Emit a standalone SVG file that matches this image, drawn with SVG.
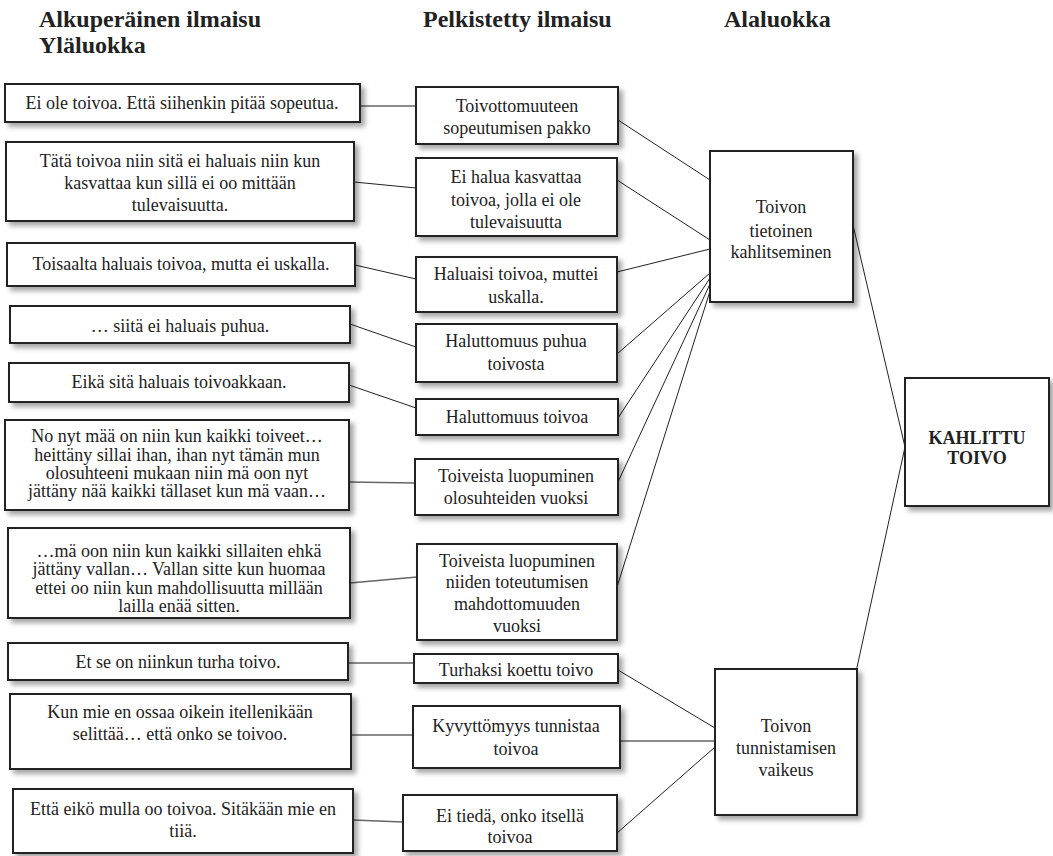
<svg xmlns="http://www.w3.org/2000/svg" width="1053" height="856" viewBox="0 0 1053 856" font-family="'Liberation Serif', 'Times New Roman', Times, serif">
<defs>
<filter id="sh" x="-10%" y="-10%" width="130%" height="140%">
<feDropShadow dx="4" dy="4" stdDeviation="2.5" flood-color="#000" flood-opacity="0.35"/>
</filter>
</defs>
<style>
.box{fill:#fff;stroke:#222;stroke-width:2;filter:url(#sh)}
text{font-family:'Liberation Serif','Times New Roman',Times,serif}
.t{font-size:18px;fill:#222;text-anchor:middle}
.b{font-weight:bold}
.h{font-size:24px;font-weight:bold;fill:#222}
.c{stroke:#222;stroke-width:1;fill:none}
.g{stroke:#666;stroke-width:1.6;fill:none}
</style>
<rect width="1053" height="856" fill="#fff"/>
<g id="headings">
<text class="h" x="39" y="27">Alkuperäinen ilmaisu</text>
<text class="h" x="39" y="53">Yläluokka</text>
<text class="h" x="423" y="27">Pelkistetty ilmaisu</text>
<text class="h" x="724" y="27">Alaluokka</text>
</g>
<g id="connectors">
<line class="g" x1="360" y1="106" x2="416" y2="106"/>
<line class="c" x1="354" y1="182" x2="416" y2="188"/>
<line class="c" x1="355" y1="265" x2="416" y2="279"/>
<line class="c" x1="350" y1="324" x2="416" y2="347"/>
<line class="c" x1="349" y1="385" x2="416" y2="408"/>
<line class="g" x1="349" y1="482" x2="415" y2="483"/>
<line class="g" x1="350" y1="583" x2="417" y2="577"/>
<line class="g" x1="348" y1="663" x2="414" y2="663"/>
<line class="g" x1="351" y1="735" x2="413" y2="735"/>
<line class="g" x1="353" y1="820" x2="403" y2="822"/>
<line class="c" x1="618" y1="120" x2="710" y2="180"/>
<line class="c" x1="617" y1="180" x2="710" y2="240"/>
<line class="c" x1="617" y1="272" x2="710" y2="249"/>
<line class="c" x1="617" y1="354" x2="710" y2="273"/>
<line class="c" x1="618" y1="418" x2="710" y2="278"/>
<line class="c" x1="618" y1="482" x2="710" y2="284"/>
<line class="c" x1="617" y1="587" x2="710" y2="291"/>
<line class="c" x1="618" y1="670" x2="715" y2="728"/>
<line class="g" x1="620" y1="741" x2="715" y2="741"/>
<line class="c" x1="617" y1="833" x2="715" y2="747"/>
<line class="c" x1="853" y1="225" x2="905" y2="447"/>
<line class="c" x1="856" y1="672" x2="905" y2="447"/>
</g>
<g id="o1"><rect class="box" x="5" y="84" width="355" height="38"/><text class="t" x="182" y="109">Ei ole toivoa. Että siihenkin pitää sopeutua.</text></g>
<g id="o2"><rect class="box" x="6" y="142" width="348" height="79"/><text class="t"><tspan x="180" y="167">Tätä toivoa niin sitä ei haluais niin kun</tspan><tspan x="180" y="189">kasvattaa kun sillä ei oo mittään</tspan><tspan x="180" y="211">tulevaisuutta.</tspan></text></g>
<g id="o3"><rect class="box" x="7" y="243" width="348" height="43"/><text class="t" x="181" y="270">Toisaalta haluais toivoa, mutta ei uskalla.</text></g>
<g id="o4"><rect class="box" x="10" y="306" width="340" height="37"/><text class="t" x="180" y="332">… siitä ei haluais puhua.</text></g>
<g id="o5"><rect class="box" x="9" y="363" width="340" height="39"/><text class="t" x="179" y="388">Eikä sitä haluais toivoakkaan.</text></g>
<g id="o6"><rect class="box" x="5" y="420" width="344" height="90"/><text class="t"><tspan x="177" y="442">No nyt mää on niin kun kaikki toiveet…</tspan><tspan x="177" y="461">heittäny sillai ihan, ihan nyt tämän mun</tspan><tspan x="177" y="479">olosuhteeni mukaan niin mä oon nyt</tspan><tspan x="177" y="497">jättäny nää kaikki tällaset kun mä vaan…</tspan></text></g>
<g id="o7"><rect class="box" x="8" y="528" width="342" height="90"/><text class="t"><tspan x="179" y="557">…mä oon niin kun kaikki sillaiten ehkä</tspan><tspan x="179" y="575">jättäny vallan… Vallan sitte kun huomaa</tspan><tspan x="179" y="594">ettei oo niin kun mahdollisuutta millään</tspan><tspan x="179" y="612">lailla enää sitten.</tspan></text></g>
<g id="o8"><rect class="box" x="8" y="643" width="340" height="37"/><text class="t" x="178" y="668">Et se on niinkun turha toivo.</text></g>
<g id="o9"><rect class="box" x="10" y="694" width="341" height="75"/><text class="t"><tspan x="180" y="718">Kun mie en ossaa oikein itellenikään</tspan><tspan x="180" y="740">selittää… että onko se toivoo.</tspan></text></g>
<g id="o10"><rect class="box" x="13" y="789" width="340" height="64"/><text class="t"><tspan x="183" y="815">Että eikö mulla oo toivoa. Sitäkään mie en</tspan><tspan x="183" y="837">tiiä.</tspan></text></g>
<g id="p1"><rect class="box" x="416" y="87" width="202" height="57"/><text class="t"><tspan x="517" y="112">Toivottomuuteen</tspan><tspan x="517" y="134">sopeutumisen pakko</tspan></text></g>
<g id="p2"><rect class="box" x="416" y="158" width="201" height="78"/><text class="t"><tspan x="516" y="183">Ei halua kasvattaa</tspan><tspan x="516" y="206">toivoa, jolla ei ole</tspan><tspan x="516" y="228">tulevaisuutta</tspan></text></g>
<g id="p3"><rect class="box" x="416" y="257" width="201" height="55"/><text class="t"><tspan x="516" y="280">Haluaisi toivoa, muttei</tspan><tspan x="516" y="303">uskalla.</tspan></text></g>
<g id="p4"><rect class="box" x="416" y="324" width="201" height="58"/><text class="t"><tspan x="516" y="347">Haluttomuus puhua</tspan><tspan x="516" y="370">toivosta</tspan></text></g>
<g id="p5"><rect class="box" x="416" y="399" width="202" height="36"/><text class="t" x="517" y="423">Haluttomuus toivoa</text></g>
<g id="p6"><rect class="box" x="415" y="459" width="203" height="56"/><text class="t"><tspan x="516" y="482">Toiveista luopuminen</tspan><tspan x="516" y="504">olosuhteiden vuoksi</tspan></text></g>
<g id="p7"><rect class="box" x="417" y="544" width="200" height="96"/><text class="t"><tspan x="517" y="567">Toiveista luopuminen</tspan><tspan x="517" y="588">niiden toteutumisen</tspan><tspan x="517" y="610">mahdottomuuden</tspan><tspan x="517" y="632">vuoksi</tspan></text></g>
<g id="p8"><rect class="box" x="414" y="654" width="204" height="29"/><text class="t" x="516" y="676">Turhaksi koettu toivo</text></g>
<g id="p9"><rect class="box" x="413" y="706" width="207" height="62"/><text class="t"><tspan x="516" y="732">Kyvyttömyys tunnistaa</tspan><tspan x="516" y="755">toivoa</tspan></text></g>
<g id="p10"><rect class="box" x="403" y="795" width="214" height="56"/><text class="t"><tspan x="510" y="822">Ei tiedä, onko itsellä</tspan><tspan x="510" y="843">toivoa</tspan></text></g>
<g id="a1"><rect class="box" x="710" y="151" width="143" height="151"/><text class="t"><tspan x="781" y="213">Toivon</tspan><tspan x="781" y="237">tietoinen</tspan><tspan x="781" y="258">kahlitseminen</tspan></text></g>
<g id="a2"><rect class="box" x="715" y="669" width="142" height="146"/><text class="t"><tspan x="786" y="732">Toivon</tspan><tspan x="786" y="754">tunnistamisen</tspan><tspan x="786" y="776">vaikeus</tspan></text></g>
<g id="k"><rect class="box" x="905" y="378" width="144" height="128"/><text class="t b"><tspan x="977" y="444">KAHLITTU</tspan><tspan x="977" y="464">TOIVO</tspan></text></g>
</svg>
